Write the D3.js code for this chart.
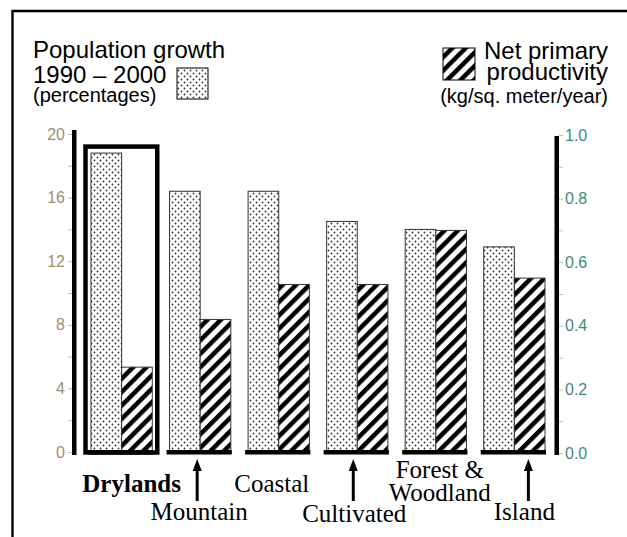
<!DOCTYPE html>
<html>

<head>
  <script src="https://d3js.org/d3.v7.min.js"></script>
  <style>
    body { margin: 0; background: #fff; }
  </style>
</head>

<body>

  <div id="chart"></div>

  <script>
    const width = 627;
    const height = 537;

    // data
    const categories = ["Drylands", "Mountain", "Coastal", "Cultivated", "Forest & Woodland", "Island"];
    const popGrowth = [18.8, 16.4, 16.4, 14.5, 14.0, 12.9];   // percentages, 1990-2000
    const npp = [0.27, 0.42, 0.53, 0.53, 0.70, 0.55];         // kg/sq. meter/year
    const leftTicks = [0, 2, 4, 6, 8, 10, 12, 14, 16, 18, 20];
    const rightTicks = [0, 0.1, 0.2, 0.3, 0.4, 0.5, 0.6, 0.7, 0.8, 0.9, 1.0];

    // where each category label sits (x offset from group centre, baseline, arrow or not)
    const labelLayout = [
      { dx: 10, y: [492], bold: true, arrow: null },
      { dx: -1, y: [520], arrow: -3 },
      { dx: -7, y: [492], arrow: null },
      { dx: -3, y: [522], arrow: -4 },
      { dx: 4, y: [478, 501], arrow: null },
      { dx: 10, y: [520], arrow: 14 }
    ];

    const svg = d3.select("#chart")
      .append("svg")
      .attr("width", width)
      .attr("height", height);

    const defs = svg.append("defs");

    var dots = defs.append("pattern")
      .attr("id", "dots")
      .attr("patternUnits", "userSpaceOnUse")
      .attr("width", 6)
      .attr("height", 6);
    dots.append("rect").attr("width", 6).attr("height", 6).attr("fill", "#fff");
    dots.append("circle").attr("cx", 1.5).attr("cy", 1.5).attr("r", 0.9).attr("fill", "#333");
    dots.append("circle").attr("cx", 4.5).attr("cy", 4.5).attr("r", 0.9).attr("fill", "#333");

    var hatch = defs.append("pattern")
      .attr("id", "hatch")
      .attr("patternUnits", "userSpaceOnUse")
      .attr("width", 9.5)
      .attr("height", 9.5)
      .attr("patternTransform", "rotate(45)");
    hatch.append("rect").attr("width", 9.5).attr("height", 9.5).attr("fill", "#fff");
    hatch.append("rect").attr("width", 4.5).attr("height", 9.5).attr("fill", "#000");

    // outer frame (top and left only)
    svg.append("path")
      .attr("d", "M12.5," + height + " V11 H" + width)
      .attr("fill", "none")
      .attr("stroke", "#000")
      .attr("stroke-width", 2.4);

    var x = d3.scaleBand()
      .domain(categories)
      .range([91, 545])
      .paddingInner(0.22);

    var yLeft = d3.scaleLinear().domain([0, 20]).range([452, 134]);
    var yRight = d3.scaleLinear().domain([0, 1]).range([453, 135]);

    var half = x.bandwidth() / 2;

    // axes
    var axL = svg.append("g")
      .attr("transform", "translate(72,0)")
      .call(d3.axisLeft(yLeft).tickValues(leftTicks).tickSize(4).tickPadding(3)
        .tickFormat(d => d % 4 === 0 ? d : ""));
    axL.select(".domain").remove();
    axL.selectAll("line").attr("stroke", "#bbb");
    axL.selectAll("text")
      .attr("fill", "#9a8f70")
      .style("font", "16px 'Liberation Sans', Arial, sans-serif");
    svg.append("rect")
      .attr("x", 72).attr("y", 130)
      .attr("width", 4.5).attr("height", 325)
      .attr("fill", "#000");

    var axR = svg.append("g")
      .attr("transform", "translate(559,0)")
      .call(d3.axisRight(yRight).tickValues(rightTicks).tickSize(4).tickPadding(2)
        .tickFormat(d => Math.round(d * 10) % 2 === 0 ? d3.format(".1f")(d) : ""));
    axR.select(".domain").remove();
    axR.selectAll("line").attr("stroke", "#9cc");
    axR.selectAll("text")
      .attr("fill", "#3f8a78")
      .style("font", "16px 'Liberation Sans', Arial, sans-serif");
    svg.append("rect")
      .attr("x", 554.5).attr("y", 136)
      .attr("width", 4.5).attr("height", 319)
      .attr("fill", "#000");

    // bars
    var groups = svg.selectAll(".grp")
      .data(categories)
      .enter().append("g")
      .attr("class", "grp");

    groups.append("rect")
      .attr("x", d => x(d))
      .attr("y", (d, i) => yLeft(popGrowth[i]))
      .attr("width", half)
      .attr("height", (d, i) => yLeft(0) - yLeft(popGrowth[i]))
      .attr("fill", "url(#dots)")
      .attr("stroke", "#333")
      .attr("stroke-width", 1);

    groups.append("rect")
      .attr("x", d => x(d) + half)
      .attr("y", (d, i) => yRight(npp[i]))
      .attr("width", half)
      .attr("height", (d, i) => yRight(0) - yRight(npp[i]))
      .attr("fill", "url(#hatch)")
      .attr("stroke", "#333")
      .attr("stroke-width", 1);

    // thick base under each group
    groups.append("rect")
      .attr("x", d => x(d) - 3)
      .attr("y", 450)
      .attr("width", x.bandwidth() + 4)
      .attr("height", 4.5)
      .attr("fill", "#000");

    // highlight box around Drylands
    svg.append("rect")
      .attr("x", x(categories[0]) - 5.5)
      .attr("y", yLeft(popGrowth[0]) - 6.5)
      .attr("width", x.bandwidth() + 10.5)
      .attr("height", yLeft(0) - yLeft(popGrowth[0]) + 7)
      .attr("fill", "none")
      .attr("stroke", "#000")
      .attr("stroke-width", 4.5);

    // category labels
    categories.forEach(function(c, i) {
      var lay = labelLayout[i];
      var cx = x(c) + half + lay.dx;
      var lines = lay.y.length > 1 ? c.replace("& ", "&\n").split("\n") : [c];
      lines.forEach(function(t, j) {
        svg.append("text")
          .attr("x", cx)
          .attr("y", lay.y[j])
          .attr("text-anchor", "middle")
          .style("font", (lay.bold ? "bold " : "") + "25px 'Liberation Serif', 'Times New Roman', serif")
          .attr("fill", "#000")
          .text(t);
      });
      if (lay.arrow !== null) {
        var ax = x(c) + half + lay.arrow;
        svg.append("line")
          .attr("x1", ax).attr("x2", ax)
          .attr("y1", 468).attr("y2", 501)
          .attr("stroke", "#000")
          .attr("stroke-width", 3);
        svg.append("path")
          .attr("d", "M" + ax + ",459 L" + (ax - 4.5) + ",471 L" + (ax + 4.5) + ",471 Z")
          .attr("fill", "#000");
      }
    });

    // legends
    var sans = "'Liberation Sans', Arial, Helvetica, sans-serif";
    svg.append("text").attr("x", 33).attr("y", 58)
      .style("font", "24px " + sans).text("Population growth");
    svg.append("text").attr("x", 33).attr("y", 83)
      .style("font", "24px " + sans).text("1990 \u2013 2000");
    svg.append("text").attr("x", 33).attr("y", 102)
      .style("font", "20px " + sans).text("(percentages)");
    svg.append("rect")
      .attr("x", 177).attr("y", 68).attr("width", 31).attr("height", 31)
      .attr("fill", "url(#dots)").attr("stroke", "#000").attr("stroke-width", 1);

    svg.append("rect")
      .attr("x", 443).attr("y", 48).attr("width", 32).attr("height", 32)
      .attr("fill", "url(#hatch)").attr("stroke", "#000").attr("stroke-width", 1);
    svg.append("text").attr("x", 608).attr("y", 59).attr("text-anchor", "end")
      .style("font", "24px " + sans).text("Net primary");
    svg.append("text").attr("x", 608).attr("y", 80).attr("text-anchor", "end")
      .style("font", "24px " + sans).text("productivity");
    svg.append("text").attr("x", 608).attr("y", 103).attr("text-anchor", "end")
      .style("font", "20px " + sans).text("(kg/sq. meter/year)");
  </script>
</body>

</html>
